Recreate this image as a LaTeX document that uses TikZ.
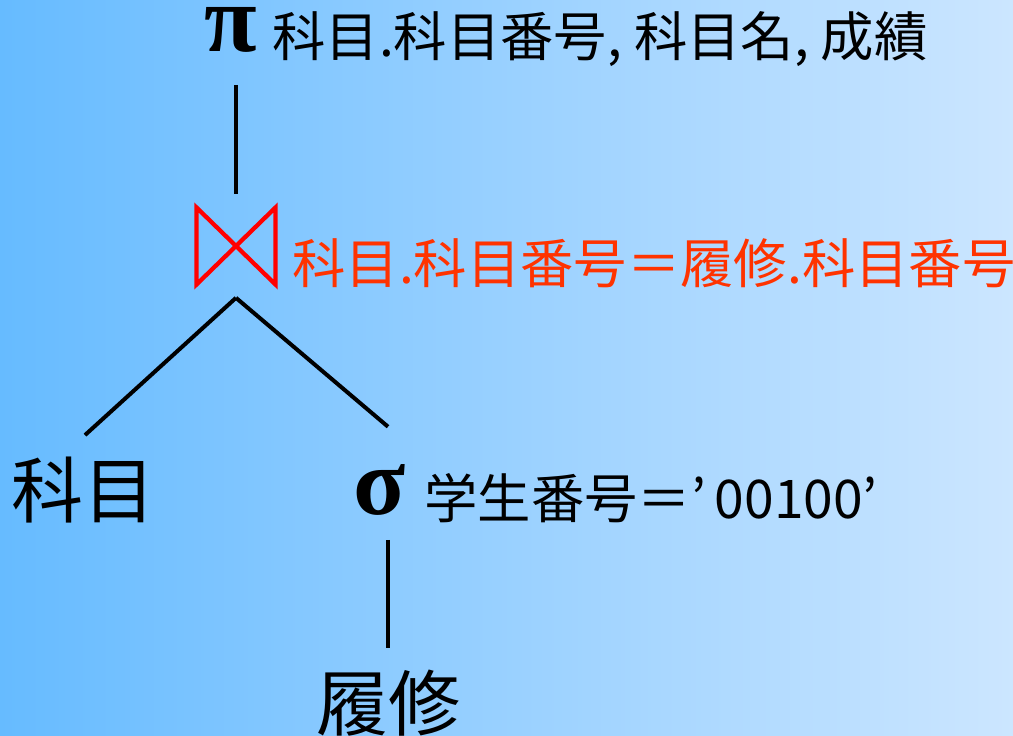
\documentclass[tikz,border=0pt]{standalone}
\usepackage{fontspec}
\setmainfont{Noto Sans CJK JP}
\newfontfamily\greekfont{Liberation Serif}
\usetikzlibrary{positioning}
\definecolor{bgleft}{RGB}{102,187,255}
\definecolor{bgright}{RGB}{204,230,255}
\definecolor{condred}{RGB}{255,51,0}
\tikzset{every picture/.style={line width=0.75pt}}
\tikzset{
  edge/.style={line width=3pt},
  bowtie/.style={draw=red, line width=3.2pt, line join=miter},
  opsym/.style={font=\greekfont\bfseries\fontsize{72}{72}\selectfont, inner sep=0pt},
  optext/.style={font=\fontsize{40}{40}\selectfont, inner sep=0pt, anchor=west},
  relname/.style={font=\fontsize{54}{54}\selectfont, inner sep=0pt},
}

\begin{document}
\begin{tikzpicture}[x=0.75pt,y=0.75pt,yscale=-1,xscale=1]
	\shade [left color=bgleft, right color=bgright] (0,0) rectangle (1013,735);
	\useasboundingbox (0,0) rectangle (1013,735);
	% Projection
	\node [opsym] (pi) at (231,30) {π};
	\node [optext] (pilabel) at (272,39) {科目.科目番号, 科目名, 成績};
	% Join
	\node [inner sep=0pt, minimum width=58.5pt, minimum height=57pt] (join) at (236,246) {};
	\draw [bowtie] (join.north west) -- (join.south east) -- (join.north east) -- (join.south west) -- cycle;
	\node [optext, text=condred] (cond) at (292,263) {科目.科目番号＝履修.科目番号};
	% Relations and selection
	\node [relname] (kamoku) at (84,490) {科目};
	\node [opsym] (sigma) at (380,490) {σ};
	\node [optext] (sellabel) at (424,498) {学生番号＝’\,00100’};
	\node [relname] (rishu) at (388,703) {履修};
	% Edges
	\draw [edge] ([yshift=24pt]pi.south -| join.north) -- ([yshift=-10.5pt]join.north);
	\draw [edge] ([yshift=10pt]join.south) -- ([yshift=-16pt]kamoku.north -| 85,0);
	\draw [edge] ([yshift=10pt]join.south) -- ([yshift=-28pt]sigma.north -| rishu.north);
	\draw [edge] ([yshift=18pt]sigma.south -| rishu.north) -- ([yshift=-16pt]rishu.north);
\end{tikzpicture}
\end{document}
